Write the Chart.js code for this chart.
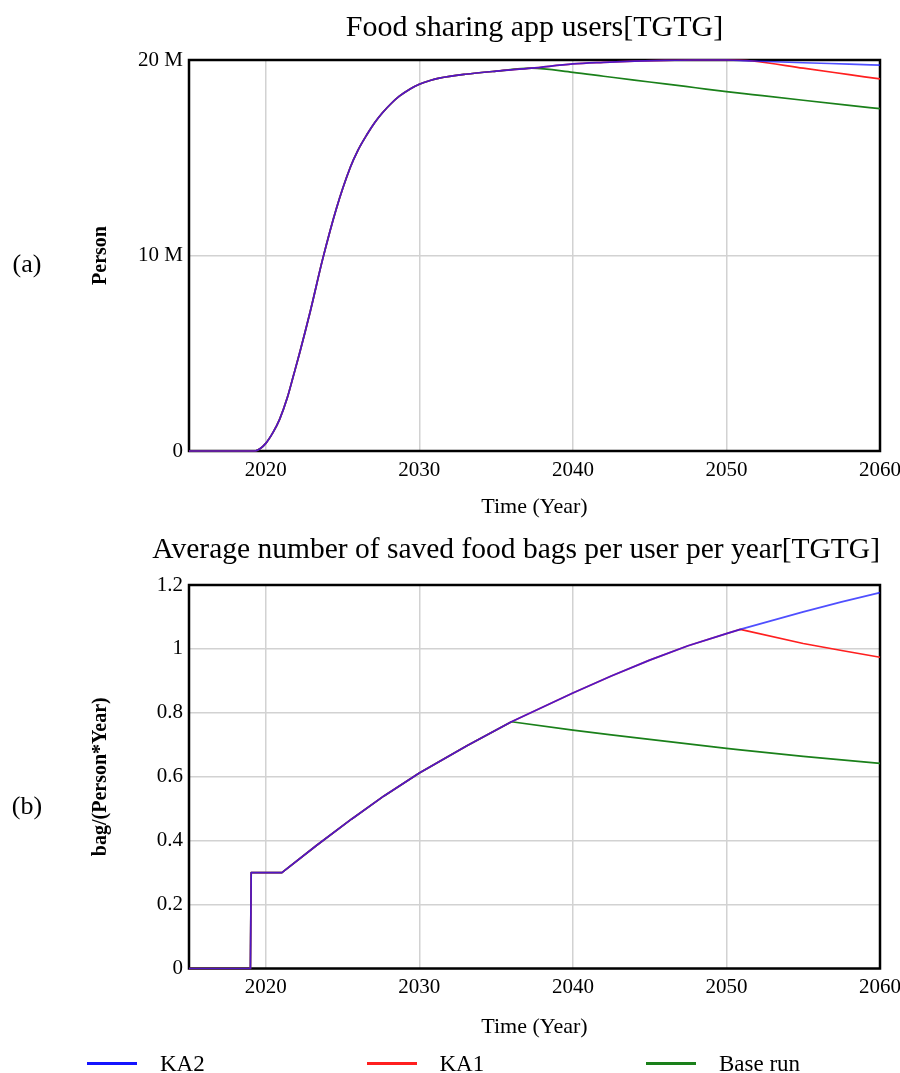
<!DOCTYPE html>
<html><head><meta charset="utf-8">
<script src="https://cdn.jsdelivr.net/npm/chart.js@4.4.1/dist/chart.umd.min.js"></script>
<style>
html,body{margin:0;padding:0;background:#fff;width:900px;height:1073px;overflow:hidden;position:relative;font-family:'Liberation Serif','Times New Roman',serif;color:#000}
canvas{position:absolute;left:0}
#ca{top:0}
#cb{top:520px}
.panel{position:absolute;font-size:26px;line-height:1;transform:translate(-50%,-50%);white-space:nowrap}
.lg{position:absolute;top:1063px;height:0}
.lg .sw{position:absolute;left:0;top:-1.5px;width:50px;height:3px}
.lg .tx{position:absolute;left:73px;top:0;transform:translateY(-50%);font-size:23px;line-height:1;white-space:nowrap}
</style></head>
<body>
<canvas id="ca" width="920" height="520"></canvas>
<canvas id="cb" width="920" height="553"></canvas>
<div class="panel" style="left:27px;top:264px">(a)</div>
<div class="panel" style="left:27px;top:806px">(b)</div>
<div id="legend"></div>
<script>
// ---- data ----
const seriesNames = ['KA2', 'KA1', 'Base run'];
const seriesColors = ['#1414ff', '#ff1f1f', '#1a801a'];
const xTickValues = [2020, 2030, 2040, 2050, 2060];

// (a) Food sharing app users (millions of persons)
const yearsA = [2015, 2019.3, 2019.6, 2020, 2020.5, 2020.9, 2021.4, 2021.8, 2022.2, 2022.9, 2023.7, 2024.6, 2025.5, 2026.0, 2026.6, 2027.1, 2027.6, 2028.2, 2028.7, 2029.4, 2030, 2030.7, 2031.3, 2033, 2035, 2037.3, 2040, 2042, 2044, 2046, 2048, 2050, 2051.7, 2055, 2058, 2060];
const ka2A  = [0, 0, 0.10, 0.39, 0.99, 1.62, 2.72, 3.85, 5.0, 7.15, 9.8, 12.41, 14.5, 15.38, 16.2, 16.8, 17.3, 17.8, 18.15, 18.52, 18.76, 18.95, 19.07, 19.27, 19.43, 19.58, 19.8, 19.88, 19.94, 19.98, 20.0, 20.0, 19.95, 19.86, 19.79, 19.74];
const ka1A  = [0, 0, 0.10, 0.39, 0.99, 1.62, 2.72, 3.85, 5.0, 7.15, 9.8, 12.41, 14.5, 15.38, 16.2, 16.8, 17.3, 17.8, 18.15, 18.52, 18.76, 18.95, 19.07, 19.27, 19.43, 19.58, 19.8, 19.88, 19.94, 19.98, 20.0, 20.0, 19.95, 19.58, 19.25, 19.03];
const baseA = [0, 0, 0.10, 0.39, 0.99, 1.62, 2.72, 3.85, 5.0, 7.15, 9.8, 12.41, 14.5, 15.38, 16.2, 16.8, 17.3, 17.8, 18.15, 18.52, 18.76, 18.95, 19.07, 19.27, 19.43, 19.58, 19.37, 19.17, 18.97, 18.78, 18.58, 18.38, 18.23, 17.94, 17.68, 17.51];
const yTicksA = [0, 10, 20];
const yTickLabelsA = ['0', '10 M', '20 M'];

// (b) Average number of saved food bags per user per year
const yearsB = [2015, 2019, 2019.05, 2021.05, 2023.3, 2025.6, 2027.7, 2030, 2033.1, 2036, 2040, 2042.5, 2045, 2047.5, 2050, 2050.9, 2055, 2057.5, 2060];
const ka2B  = [0, 0, 0.3, 0.3, 0.385, 0.468, 0.54, 0.612, 0.697, 0.772, 0.862, 0.915, 0.965, 1.01, 1.048, 1.061, 1.116, 1.147, 1.176];
const ka1B  = [0, 0, 0.3, 0.3, 0.385, 0.468, 0.54, 0.612, 0.697, 0.772, 0.862, 0.915, 0.965, 1.01, 1.048, 1.061, 1.017, 0.995, 0.974];
const baseB = [0, 0, 0.3, 0.3, 0.385, 0.468, 0.54, 0.612, 0.697, 0.772, 0.746, 0.731, 0.717, 0.703, 0.689, 0.684, 0.664, 0.653, 0.642];
const yTicksB = [0, 0.2, 0.4, 0.6, 0.8, 1.0, 1.2];
const yTickLabelsB = ['0', '0.2', '0.4', '0.6', '0.8', '1', '1.2'];

// ---- chart setup ----
Chart.defaults.font.family = "'Liberation Serif','Times New Roman',serif";
Chart.defaults.color = '#000';

const framePlugin = {
  id: 'frame',
  beforeDatasetsDraw(chart) {
    const a = chart.chartArea, c = chart.ctx;
    c.save();
    c.strokeStyle = '#000';
    c.lineWidth = 2.5;
    c.strokeRect(a.left, a.top, a.right - a.left, a.bottom - a.top);
    c.restore();
  }
};

function toXY(xs, ys) { return xs.map((x, i) => ({ x: x, y: ys[i] })); }

function lineColors() {
  return ['rgba(20,20,255,0.75)', seriesColors[1], seriesColors[2]];
}

function makeDatasets(xs, seriesList, smooth) {
  const cols = lineColors();
  return seriesList.map((ys, i) => {
    const ds = {
      label: seriesNames[i],
      data: toXY(xs, ys),
      borderColor: cols[i],
      borderWidth: 1.7,
      pointRadius: 0,
      fill: false,
      tension: 0,
      borderJoinStyle: 'round',
      clip: false
    };
    if (smooth) ds.cubicInterpolationMode = 'monotone';
    return ds;
  });
}

function makeScales(o) {
  const grid = { color: '#d2d2d2', lineWidth: 1.5, drawTicks: false };
  return {
    x: {
      type: 'linear', min: 2015, max: 2060,
      afterBuildTicks: s => { s.ticks = xTickValues.map(v => ({ value: v })); },
      afterFit: s => { s.height = o.xH; },
      ticks: { color: '#000', font: { size: 21 }, padding: 6.5, maxRotation: 0, autoSkip: false, callback: v => String(v) },
      grid: grid,
      border: { display: false },
      title: { display: true, text: 'Time (Year)', color: '#000', font: { size: 22 }, padding: { top: 0, bottom: o.xtpb } }
    },
    y: {
      type: 'linear', min: o.ymin, max: o.ymax,
      afterBuildTicks: s => { s.ticks = o.yt.map(v => ({ value: v })); },
      afterFit: s => { s.width = 189; },
      ticks: { color: '#000', font: { size: 21 }, padding: 6, callback: (v, i) => o.yl[i] },
      grid: grid,
      border: { display: false },
      title: { display: true, text: o.ytitle, color: '#000', font: { size: 20, weight: 'bold' }, padding: { top: 89, bottom: 0 } }
    }
  };
}

new Chart(document.getElementById('ca'), {
  type: 'line',
  data: { datasets: makeDatasets(yearsA, [ka2A, ka1A, baseA], true) },
  options: {
    responsive: false, animation: false, devicePixelRatio: 1,
    layout: { padding: { left: 0, right: 40, top: 0, bottom: 0 } },
    plugins: {
      legend: { display: false }, tooltip: { enabled: false },
      title: { display: true, text: 'Food sharing app users[TGTG]', fullSize: false, color: '#000',
               font: { size: 30, weight: 'normal' }, padding: { top: 10, bottom: 14 } }
    },
    scales: makeScales({ xH: 69, xtpb: 0, ymin: 0, ymax: 20, yt: yTicksA, yl: yTickLabelsA, ytitle: 'Person' })
  },
  plugins: [framePlugin]
});

new Chart(document.getElementById('cb'), {
  type: 'line',
  data: { datasets: makeDatasets(yearsB, [ka2B, ka1B, baseB], false) },
  options: {
    responsive: false, animation: false, devicePixelRatio: 1,
    layout: { padding: { left: 0, right: 40, top: 0, bottom: 32.5 } },
    plugins: {
      legend: { display: false }, tooltip: { enabled: false },
      title: { display: true, text: 'Average number of saved food bags per user per year[TGTG]', fullSize: true, align: 'end',
               color: '#000', font: { size: 29.5, weight: 'normal' }, padding: { top: 12.3, bottom: 17.3 } }
    },
    scales: makeScales({ xH: 72, xtpb: 0.3, ymin: 0, ymax: 1.2, yt: yTicksB, yl: yTickLabelsB, ytitle: 'bag/(Person*Year)' })
  },
  plugins: [framePlugin]
});

// ---- legend (HTML, built from series arrays) ----
const lg = document.getElementById('legend');
seriesNames.forEach((name, i) => {
  const d = document.createElement('div');
  d.className = 'lg';
  d.style.left = (87 + i * 279.5) + 'px';
  const sw = document.createElement('div');
  sw.className = 'sw';
  sw.style.background = seriesColors[i];
  const tx = document.createElement('div');
  tx.className = 'tx';
  tx.textContent = name;
  d.appendChild(sw); d.appendChild(tx);
  lg.appendChild(d);
});
</script>
</body></html>
